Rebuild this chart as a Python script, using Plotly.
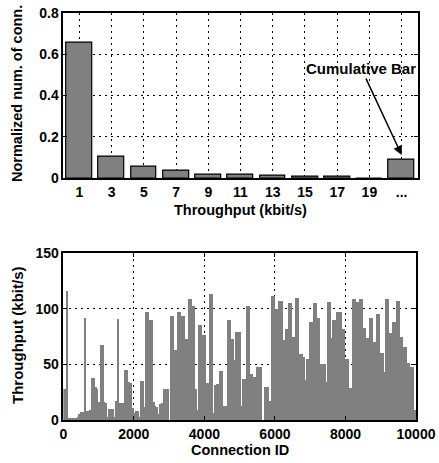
import plotly.graph_objects as go

# ---- Top chart data ----
tp_labels = ["1", "3", "5", "7", "9", "11", "13", "15", "17", "19", "..."]
tp_share = [0.657, 0.106, 0.058, 0.036, 0.018, 0.018, 0.015, 0.010, 0.010, 0.0, 0.089]

# ---- Bottom chart data (throughput per block of 50 connection IDs) ----
bin_size = 50
conn_tput = [
    28, 28, 116, 2, 2, 2, 2, 2, 3, 5,
    7, 7, 92, 8, 8, 9, 38, 38, 30, 28,
    16, 67, 67, 16, 15, 3, 10, 10, 10, 3,
    17, 91, 15, 15, 15, 45, 45, 34, 33, 11,
    6, 8, 8, 3, 35, 35, 12, 97, 97, 90,
    90, 16, 13, 12, 5, 14, 15, 28, 28, 28,
    0, 93, 93, 63, 63, 97, 97, 93, 93, 73,
    73, 109, 109, 102, 102, 28, 9, 85, 85, 76,
    76, 33, 33, 113, 113, 6, 31, 32, 32, 44,
    44, 13, 13, 90, 90, 73, 73, 54, 79, 79,
    79, 13, 37, 37, 102, 102, 41, 41, 39, 39,
    48, 48, 48, 0, 30, 30, 30, 17, 111, 111,
    100, 100, 107, 107, 107, 72, 82, 82, 105, 105,
    75, 75, 110, 110, 59, 59, 57, 36, 55, 55,
    88, 88, 105, 105, 92, 92, 50, 50, 50, 34,
    106, 106, 74, 90, 90, 97, 97, 97, 82, 82,
    55, 55, 29, 29, 109, 109, 106, 106, 109, 109,
    83, 83, 74, 74, 92, 92, 70, 70, 95, 95,
    60, 60, 43, 109, 109, 78, 78, 88, 88, 107,
    107, 75, 75, 66, 66, 51, 51, 48, 48, 9,
]
conn_ids = [bin_size * i + bin_size / 2 for i in range(len(conn_tput))]
conn_ticks = [0, 2000, 4000, 6000, 8000, 10000]
tput_ticks = [0, 50, 100, 150]
share_ticks = [0, 0.2, 0.4, 0.6, 0.8]

FONT = "Liberation Sans"
fig = go.Figure()

fig.add_trace(go.Bar(
    x=tp_labels, y=tp_share, xaxis="x", yaxis="y",
    marker=dict(color="#808080", line=dict(color="black", width=1.2)),
    width=0.8, showlegend=False,
))
fig.add_trace(go.Bar(
    x=conn_ids, y=conn_tput, xaxis="x2", yaxis="y2",
    width=bin_size,
    marker=dict(color="#808080", line=dict(width=0)),
    showlegend=False,
))

axis_common = dict(
    showline=True, linecolor="black", linewidth=1.5, mirror="ticks",
    ticks="inside", ticklen=4, tickcolor="black",
    showgrid=True, gridcolor="black", griddash="2px,4px", gridwidth=1.2,
    zeroline=False, automargin=False,
    tickfont=dict(family=FONT, size=14, color="black", weight="bold"),
)

fig.update_layout(
    width=439, height=463,
    margin=dict(l=0, r=0, t=0, b=0, autoexpand=False),
    paper_bgcolor="white", plot_bgcolor="white",
    bargap=0,
    xaxis=dict(axis_common, domain=[0.1442, 0.9515], type="category",
               anchor="y", ticks="", range=[-0.5, 10.5]),
    yaxis=dict(axis_common, domain=[0.6149, 0.9726], anchor="x",
               range=[0, 0.8], tickvals=share_ticks,
               ticktext=[f"{v:g}" for v in share_ticks]),
    xaxis2=dict(axis_common, domain=[0.1442, 0.9476], anchor="y2",
                range=[0, 10000], tickvals=conn_ticks,
                ticktext=[str(v) for v in conn_ticks]),
    yaxis2=dict(axis_common, domain=[0.0929, 0.4536], anchor="x2",
                range=[0, 150], tickvals=tput_ticks,
                ticktext=[str(v) for v in tput_ticks]),
)

title_font = dict(family=FONT, size=14.5, color="black", weight="bold")
fig.add_annotation(text="Throughput (kbit/s)", xref="paper", yref="paper",
                   x=240 / 439, y=1 - 210 / 463, showarrow=False,
                   font=title_font, xanchor="center", yanchor="middle")
fig.add_annotation(text="Normalized num. of conn.", xref="paper", yref="paper",
                   x=17 / 439, y=1 - 94 / 463, showarrow=False, textangle=-90,
                   font=title_font, xanchor="center", yanchor="middle")
fig.add_annotation(text="Connection ID", xref="paper", yref="paper",
                   x=240 / 439, y=1 - 450 / 463, showarrow=False,
                   font=title_font, xanchor="center", yanchor="middle")
fig.add_annotation(text="Throughput (kbit/s)", xref="paper", yref="paper",
                   x=17 / 439, y=1 - 336 / 463, showarrow=False, textangle=-90,
                   font=dict(title_font, size=15), xanchor="center", yanchor="middle")

fig.add_annotation(text="Cumulative Bar", xref="x", yref="y",
                   x=10.0, y=0.113, axref="x", ayref="y", ax=8.75, ay=0.53,
                   showarrow=True, arrowhead=2, arrowsize=1.2, arrowwidth=1.5,
                   arrowcolor="black", font=dict(title_font, size=15))

fig.write_html("out.html")
